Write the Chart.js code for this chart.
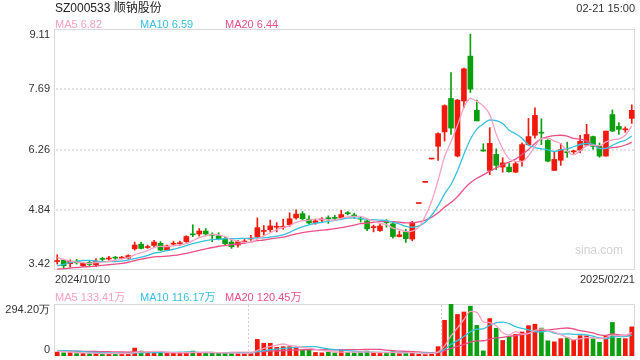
<!DOCTYPE html>
<html>
<head>
<meta charset="utf-8">
<script src="https://cdn.jsdelivr.net/npm/chart.js@4.4.1/dist/chart.umd.min.js"></script>
<style>
  body { margin: 0; background: #fff; }
  #wrap { position: relative; width: 640px; height: 360px; overflow: hidden;
          font-family: "Liberation Sans", Arial, "Noto Sans CJK SC", sans-serif; color: #333; }
  #wrap canvas { position: absolute; left: 0; top: 0; }
  .t { position: absolute; white-space: nowrap; line-height: 14px; font-size: 11px; }
  .ma5 { color: #f7a1c2; }
  .ma10 { color: #37c1dc; }
  .ma20 { color: #ea4f88; }
</style>
</head>
<body>
<div id="wrap">
  <canvas id="price-chart" width="640" height="360"></canvas>
  <canvas id="vol-chart" width="640" height="360"></canvas>

  <div class="t" style="left:55px;top:1px;font-size:12px;color:#222">SZ000533 顺钠股份</div>
  <div class="t" style="right:5px;top:1px">02-21 15:00</div>

  <div class="t ma5" style="left:55px;top:17px">MA5 6.82</div>
  <div class="t ma10" style="left:140px;top:17px">MA10 6.59</div>
  <div class="t ma20" style="left:225px;top:17px">MA20 6.44</div>

  <div class="t" style="right:17px;top:243px;color:#d2d2d2;font-size:12px">sina.com</div>

  <div class="t" style="left:55px;top:272px">2024/10/10</div>
  <div class="t" style="right:5px;top:272px">2025/02/21</div>

  <div class="t ma5" style="left:55px;top:290px">MA5 133.41万</div>
  <div class="t ma10" style="left:140px;top:290px">MA10 116.17万</div>
  <div class="t ma20" style="left:225px;top:290px">MA20 120.45万</div>
</div>

<script>
// trading days shown on the x axis
var dates = [
  '2024/10/10','2024/10/11','2024/10/14','2024/10/15','2024/10/16','2024/10/17','2024/10/18','2024/10/21','2024/10/22','2024/10/23',
  '2024/10/24','2024/10/25','2024/10/28','2024/10/29','2024/10/30','2024/10/31','2024/11/01','2024/11/04','2024/11/05','2024/11/06',
  '2024/11/07','2024/11/08','2024/11/11','2024/11/12','2024/11/13','2024/11/14','2024/11/15','2024/11/18','2024/11/19','2024/11/20',
  '2024/11/21','2024/11/22','2024/11/25','2024/11/26','2024/11/27','2024/11/28','2024/11/29','2024/12/02','2024/12/03','2024/12/04',
  '2024/12/05','2024/12/06','2024/12/09','2024/12/10','2024/12/11','2024/12/12','2024/12/13','2024/12/16','2024/12/17','2024/12/18',
  '2024/12/19','2024/12/20','2024/12/23','2024/12/24','2024/12/25','2024/12/26','2024/12/27','2024/12/30','2024/12/31','2025/01/02',
  '2025/01/03','2025/01/06','2025/01/07','2025/01/08','2025/01/09','2025/01/10','2025/01/13','2025/01/14','2025/01/15','2025/01/16',
  '2025/01/17','2025/01/20','2025/01/21','2025/01/22','2025/01/23','2025/01/24','2025/01/27','2025/02/05','2025/02/06','2025/02/07',
  '2025/02/10','2025/02/11','2025/02/12','2025/02/13','2025/02/14','2025/02/17','2025/02/18','2025/02/19','2025/02/20','2025/02/21'
];

var opens = [
  3.62,3.65,3.57,3.63,3.52,3.60,3.54,3.69,3.68,3.71, 3.70,3.70,3.92,4.03,3.95,4.00,4.05,3.89,4.03,4.04,
  4.09,4.27,4.27,4.34,4.26,4.23,4.15,4.08,4.01,4.08, 4.15,4.20,4.33,4.37,4.43,4.43,4.49,4.65,4.75,4.62,
  4.54,4.60,4.65,4.65,4.65,4.77,4.72,4.64,4.58,4.42, 4.35,4.56,4.51,4.21,4.32,4.15,4.99,5.49,6.04,6.34,
  6.68,7.47,6.11,7.41,8.47,7.19,6.25,5.77,6.15,5.85, 5.85,5.73,6.01,6.38,6.60,6.67,6.48,5.77,6.01,6.21,
  6.21,6.25,6.37,6.57,6.34,6.11,7.09,6.81,6.73,7.00
];
var highs = [
  3.78,3.66,3.66,3.67,3.60,3.65,3.69,3.72,3.74,3.74, 3.74,3.78,4.08,4.08,4.01,4.12,4.09,4.01,4.10,4.10,
  4.23,4.49,4.40,4.40,4.30,4.30,4.20,4.12,4.12,4.14, 4.24,4.65,4.47,4.60,4.54,4.62,4.77,4.84,4.80,4.70,
  4.62,4.66,4.70,4.71,4.83,4.80,4.76,4.68,4.62,4.48, 4.50,4.61,4.56,4.34,4.38,4.57,4.99,5.49,6.04,6.66,
  7.32,8.08,7.45,8.19,8.99,7.43,6.40,6.78,6.28,6.07, 5.93,5.97,6.42,7.00,7.25,6.99,6.50,6.20,6.41,6.44,
  6.25,6.60,6.86,6.58,6.42,6.70,7.20,6.90,6.80,7.32
];
var lows = [
  3.56,3.46,3.49,3.56,3.50,3.51,3.50,3.64,3.65,3.67, 3.68,3.68,3.89,3.92,3.93,3.96,3.88,3.88,3.99,4.00,
  4.07,4.21,4.22,4.24,4.09,4.13,4.02,3.93,3.96,4.06, 4.12,4.18,4.24,4.32,4.32,4.38,4.45,4.62,4.60,4.50,
  4.50,4.55,4.52,4.60,4.62,4.72,4.64,4.55,4.35,4.32, 4.33,4.43,4.17,4.20,4.07,4.11,4.99,5.49,6.04,6.01,
  6.46,6.62,6.09,7.25,7.61,6.94,6.22,5.67,5.79,5.73, 5.73,5.72,5.87,6.36,6.53,6.38,5.97,5.77,5.89,6.08,
  6.17,6.19,6.36,6.27,6.08,6.11,6.69,6.62,6.67,6.88
];
var closes = [
  3.64,3.52,3.63,3.59,3.58,3.55,3.63,3.67,3.70,3.70, 3.72,3.76,4.01,3.93,3.97,4.08,3.89,3.99,4.05,4.06,
  4.21,4.25,4.34,4.27,4.24,4.15,4.04,3.97,4.09,4.10, 4.17,4.42,4.35,4.46,4.45,4.45,4.63,4.74,4.63,4.53,
  4.58,4.62,4.63,4.64,4.73,4.75,4.68,4.62,4.39,4.44, 4.46,4.54,4.21,4.25,4.16,4.54,4.99,5.49,6.04,6.64,
  7.30,6.77,7.43,8.17,7.69,6.94,6.23,6.41,5.89,5.95, 5.74,5.93,6.38,6.57,7.07,6.65,5.99,6.03,6.26,6.19,
  6.23,6.46,6.62,6.34,6.11,6.70,6.70,6.74,6.75,7.19
];
// volume in 万 shares
var volumes = [
  22,18,20,14,15,14,16,12,14,13, 12,16,45,28,18,22,20,18,15,18,
  22,28,20,18,16,15,18,20,15,14, 18,94,72,72,49,53,53,49,35,35,
  20,18,22,18,33,20,18,20,28,15, 18,15,25,14,18,25,10,8,12,53,
  202,294.2,235,249,282,173,29,212,157,88, 112,122,136,172,180,158,86,80,98,103,
  90,115,114,97,78,114,190,100,98,165
];
// sessions before 10/10, only used to warm up the moving averages
var prevCloses = [3.30,3.32,3.35,3.33,3.36,3.38,3.37,3.40,3.39,3.41,3.20,3.22,3.28,3.38,3.52,3.78,3.82,3.70,3.66];
var prevVolumes = [30,28,25,26,24,22,25,28,30,27,26,24,30,45,40,35,30,28,25];

var priceTicks = [3.42, 4.84, 6.26, 7.69, 9.11];
var volTicks = [0, 294.2];
var volTickLabels = ['0', '294.20万'];

var UP = '#f0190c', DOWN = '#0b9f10';
var MA5_COLOR = '#f7a1c2', MA10_COLOR = '#37c1dc', MA20_COLOR = '#ea4f88';

function movingAvg(prev, values, n) {
  var all = prev.concat(values);
  return values.map(function (v, i) {
    var end = prev.length + i + 1, sum = 0;
    for (var k = end - n; k < end; k++) sum += all[k];
    return +(sum / n).toFixed(3);
  });
}

var barColors = closes.map(function (c, i) { return c >= opens[i] ? UP : DOWN; });

// frame, dotted grid and the y labels (kept inside the panel like the original)
var panelPlugin = {
  id: 'panel',
  beforeDatasetsDraw: function (chart, args, opts) {
    var ctx = chart.ctx, a = chart.chartArea;
    var xs = chart.scales.x, ys = chart.scales.y;
    ctx.save();
    ctx.strokeStyle = '#d9d9d9';
    ctx.lineWidth = 1;
    ctx.strokeRect(a.left + 0.5, a.top + 0.5, a.right - a.left - 1, a.bottom - a.top - 1);

    ctx.strokeStyle = '#e2e2e2';
    ctx.lineWidth = 2;
    ctx.setLineDash([2, 2]);
    (opts.grid || []).forEach(function (v) {
      var py = Math.round(ys.getPixelForValue(v));
      ctx.beginPath();
      ctx.moveTo(a.left + 2, py);
      ctx.lineTo(a.right - 1, py);
      ctx.stroke();
    });

    ctx.strokeStyle = '#cfcfcf';
    ctx.lineWidth = 1;
    (opts.splits || []).forEach(function (i) {
      var px = Math.round((xs.getPixelForValue(i - 1) + xs.getPixelForValue(i)) / 2) + 0.5;
      ctx.beginPath();
      ctx.moveTo(px, a.top + 1);
      ctx.lineTo(px, a.bottom - 1);
      ctx.stroke();
    });
    ctx.restore();
  },
  afterDraw: function (chart, args, opts) {
    var ctx = chart.ctx, a = chart.chartArea, ys = chart.scales.y;
    ctx.save();
    ctx.font = '11px "Liberation Sans", Arial, sans-serif';
    ctx.fillStyle = '#333';
    ctx.textAlign = 'right';
    ctx.textBaseline = 'middle';
    opts.ticks.forEach(function (v, i) {
      var py = ys.getPixelForValue(v);
      py = Math.min(Math.max(py, a.top + 6), a.bottom - 6);
      ctx.fillText(opts.labels[i], a.left - 4, py);
    });
    ctx.restore();
  }
};

function maLine(label, data, color) {
  return {
    type: 'line', label: label, data: data, borderColor: color, borderWidth: 1.3,
    pointRadius: 0, cubicInterpolationMode: 'monotone', fill: false, order: 0
  };
}

var baseOptions = {
  responsive: false,
  animation: false,
  devicePixelRatio: 1,
  plugins: { legend: { display: false }, tooltip: { enabled: false } }
};

// price panel: candles are floating bars (body) over thin floating bars (wick)
new Chart(document.getElementById('price-chart'), {
  type: 'bar',
  data: {
    labels: dates,
    datasets: [
      maLine('MA5', movingAvg(prevCloses, closes, 5), MA5_COLOR),
      maLine('MA10', movingAvg(prevCloses, closes, 10), MA10_COLOR),
      maLine('MA20', movingAvg(prevCloses, closes, 20), MA20_COLOR),
      {
        label: 'body',
        data: opens.map(function (o, i) { return [o, closes[i]]; }),
        backgroundColor: barColors, barThickness: 5, minBarLength: 1, grouped: false, order: 1
      },
      {
        label: 'wick',
        data: lows.map(function (l, i) { return [l, highs[i]]; }),
        backgroundColor: barColors, barThickness: 1, grouped: false, order: 2
      }
    ]
  },
  options: Object.assign({}, baseOptions, {
    layout: { padding: { left: 54, top: 29, right: 5, bottom: 90 } },
    scales: {
      x: { display: false },
      y: { display: false, min: priceTicks[0], max: priceTicks[priceTicks.length - 1] }
    },
    plugins: Object.assign({}, baseOptions.plugins, {
      panel: {
        ticks: priceTicks,
        labels: priceTicks.map(function (v) { return v.toFixed(2); }),
        grid: priceTicks.slice(1, -1)
      }
    })
  }),
  plugins: [panelPlugin]
});

// volume panel
new Chart(document.getElementById('vol-chart'), {
  type: 'bar',
  data: {
    labels: dates,
    datasets: [
      maLine('MA5', movingAvg(prevVolumes, volumes, 5), MA5_COLOR),
      maLine('MA10', movingAvg(prevVolumes, volumes, 10), MA10_COLOR),
      maLine('MA20', movingAvg(prevVolumes, volumes, 20), MA20_COLOR),
      {
        label: 'volume', data: volumes, backgroundColor: barColors,
        barThickness: 4, grouped: false, order: 1
      }
    ]
  },
  options: Object.assign({}, baseOptions, {
    layout: { padding: { left: 54, top: 304, right: 5, bottom: 4 } },
    scales: {
      x: { display: false },
      y: { display: false, min: volTicks[0], max: volTicks[1] }
    },
    plugins: Object.assign({}, baseOptions.plugins, {
      panel: { ticks: volTicks, labels: volTickLabels, grid: [], splits: [30, 60] }
    })
  }),
  plugins: [panelPlugin]
});
</script>
</body>
</html>
